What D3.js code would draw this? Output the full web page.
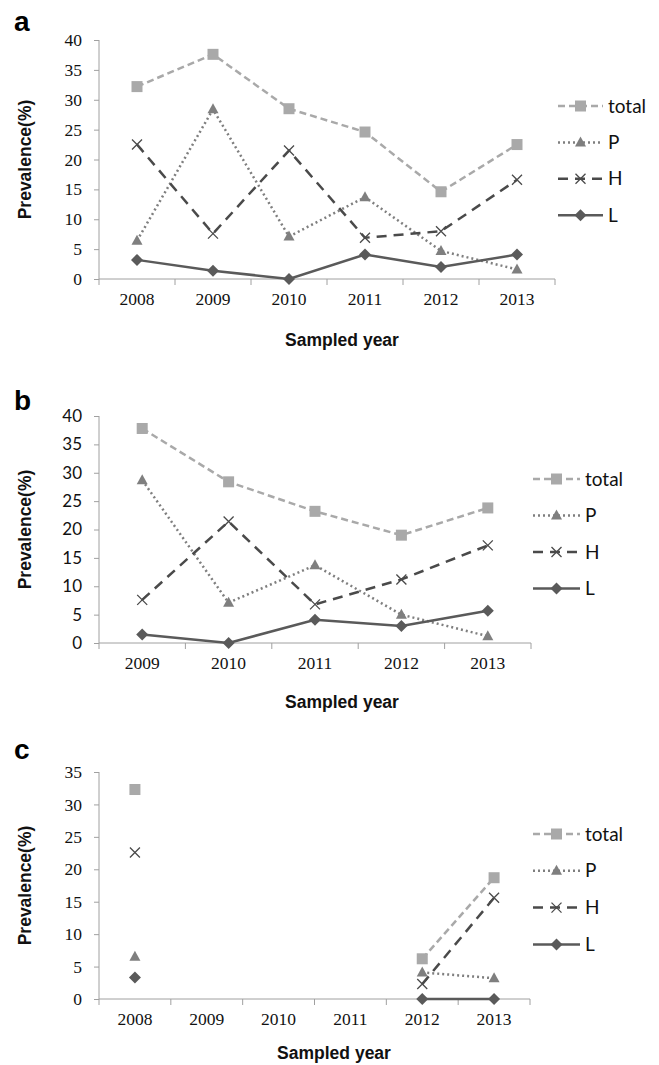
<!DOCTYPE html>
<html>
<head>
<meta charset="utf-8">
<script src="https://cdn.jsdelivr.net/npm/d3@7"></script>
<style>
  body { margin: 0; background: #fff; }
  svg { display: block; }
  .axis path, .axis line { stroke: #a0a0a0; }
</style>
</head>
<body>
<div id="chart"></div>
<script>
// Data
const seriesNames = ['total', 'P', 'H', 'L'];

const yearsA = ['2008', '2009', '2010', '2011', '2012', '2013'];
const totalA = [32.2, 37.6, 28.5, 24.6, 14.6, 22.5];
const pA     = [6.4, 28.4, 7.1, 13.7, 4.7, 1.6];
const hA     = [22.5, 7.6, 21.5, 6.9, 8.0, 16.6];
const lA     = [3.2, 1.4, 0, 4.1, 2.0, 4.1];

const yearsB = ['2009', '2010', '2011', '2012', '2013'];
const totalB = [37.8, 28.4, 23.2, 19.0, 23.8];
const pB     = [28.7, 7.1, 13.7, 5.0, 1.2];
const hB     = [7.6, 21.4, 6.8, 11.2, 17.2];
const lB     = [1.5, 0, 4.1, 3.0, 5.7];

const yearsC = ['2008', '2009', '2010', '2011', '2012', '2013'];
const totalC = [32.3, null, null, null, 6.2, 18.7];
const pC     = [6.5, null, null, null, 4.1, 3.2];
const hC     = [22.6, null, null, null, 2.3, 15.6];
const lC     = [3.3, null, null, null, 0, 0];

const yTicksA = [0, 5, 10, 15, 20, 25, 30, 35, 40];
const yTicksB = [0, 5, 10, 15, 20, 25, 30, 35, 40];
const yTicksC = [0, 5, 10, 15, 20, 25, 30, 35];

const width = 659;
const height = 1065;

const serif = "'Liberation Serif', 'Times New Roman', serif";
const sans = "Lato, 'Open Sans', sans-serif";
const bold = "'Liberation Sans', Arial, sans-serif";

// line / marker styles per series
const styles = {
  total: { stroke: '#a9a9a9', dash: '7,4', marker: 'square', fill: '#a9a9a9' },
  P:     { stroke: '#7f7f7f', dash: '2,3', marker: 'triangle', fill: '#7f7f7f' },
  H:     { stroke: '#4a4a4a', dash: '10,7', marker: 'cross', fill: '#4a4a4a' },
  L:     { stroke: '#5a5a5a', dash: null, marker: 'diamond', fill: '#5a5a5a' }
};

const panels = [
  { letter: 'a', years: yearsA, values: [totalA, pA, hA, lA], ticks: yTicksA, yMax: 40,
    left: 99, right: 555, top: 40, bottom: 279, yFont: serif, yFontSize: 17.5,
    titleY: 340, titleX: 342, letterY: 31,
    legendX: 558, legendLen: 45, legendY: 106, legendStep: 36.4 },
  { letter: 'b', years: yearsB, values: [totalB, pB, hB, lB], ticks: yTicksB, yMax: 40,
    left: 99, right: 531, top: 416, bottom: 643, yFont: sans, yFontSize: 17,
    titleY: 702, titleX: 342, letterY: 410,
    legendX: 533, legendLen: 47, legendY: 479, legendStep: 36.5 },
  { letter: 'c', years: yearsC, values: [totalC, pC, hC, lC], ticks: yTicksC, yMax: 35,
    left: 99, right: 530, top: 772, bottom: 999, yFont: serif, yFontSize: 17.5,
    titleY: 1053, titleX: 334, letterY: 759,
    legendX: 533, legendLen: 47, legendY: 834, legendStep: 36.8 }
];

const svg = d3.select('#chart').append('svg')
    .attr('width', width)
    .attr('height', height)
    .attr('viewBox', [0, 0, width, height]);

function drawMarker(g, type, cx, cy, color) {
  if (type === 'square') {
    g.append('rect')
      .attr('x', cx - 5.5).attr('y', cy - 5.5)
      .attr('width', 11).attr('height', 11)
      .attr('fill', color);
  } else if (type === 'triangle') {
    g.append('path')
      .attr('d', `M${cx},${cy - 6}L${cx + 5.5},${cy + 4}L${cx - 5.5},${cy + 4}Z`)
      .attr('fill', color);
  } else if (type === 'diamond') {
    g.append('path')
      .attr('d', `M${cx},${cy - 6}L${cx + 6},${cy}L${cx},${cy + 6}L${cx - 6},${cy}Z`)
      .attr('fill', color);
  } else if (type === 'cross') {
    g.append('path')
      .attr('d', `M${cx - 5},${cy - 5}L${cx + 5},${cy + 5}M${cx - 5},${cy + 5}L${cx + 5},${cy - 5}`)
      .attr('stroke', color)
      .attr('stroke-width', 1.3)
      .attr('fill', 'none');
  }
}

panels.forEach(p => {
  const g = svg.append('g');

  const x = d3.scaleBand()
      .domain(p.years)
      .range([p.left, p.right])
      .padding(0);

  const y = d3.scaleLinear()
      .domain([0, p.yMax])
      .range([p.bottom, p.top]);

  const cx = d => x(d) + x.bandwidth() / 2;

  // y axis
  const yAxis = d3.axisLeft(y)
      .tickValues(p.ticks)
      .tickSize(5)
      .tickPadding(12)
      .tickFormat(d3.format('d'));

  g.append('g')
      .attr('class', 'axis')
      .attr('transform', `translate(${p.left},0)`)
      .call(yAxis)
      .call(s => s.select('.domain').attr('d', `M0,${p.top}V${p.bottom}`))
      .selectAll('text')
      .style('font-family', p.yFont)
      .style('font-size', p.yFontSize + 'px')
      .attr('fill', '#111');

  // x axis: labels at band centres, ticks at band edges
  const xAxis = d3.axisBottom(x)
      .tickSize(0)
      .tickPadding(14);

  const xg = g.append('g')
      .attr('class', 'axis')
      .attr('transform', `translate(0,${p.bottom})`)
      .call(xAxis);

  xg.select('.domain').attr('d', `M${p.left},0H${p.right}`);
  xg.selectAll('text')
      .style('font-family', serif)
      .style('font-size', '17.5px')
      .attr('fill', '#111');

  const edges = p.years.map(d => x(d)).concat([p.right]);
  xg.selectAll('line.edge')
      .data(edges)
      .enter()
      .append('line')
      .attr('class', 'edge')
      .attr('x1', d => d).attr('x2', d => d)
      .attr('y1', 0).attr('y2', 6)
      .attr('stroke', '#a0a0a0');

  // y title
  g.append('text')
      .attr('transform', `translate(31,${(p.top + p.bottom) / 2}) rotate(-90)`)
      .attr('text-anchor', 'middle')
      .style('font-family', bold)
      .style('font-weight', 'bold')
      .style('font-size', '17.5px')
      .attr('fill', '#111')
      .text('Prevalence(%)');

  // x title
  g.append('text')
      .attr('x', p.titleX)
      .attr('y', p.titleY)
      .attr('dy', '0.35em')
      .attr('text-anchor', 'middle')
      .style('font-family', bold)
      .style('font-weight', 'bold')
      .style('font-size', '17.5px')
      .attr('fill', '#111')
      .text('Sampled year');

  // panel letter
  g.append('text')
      .attr('x', 14)
      .attr('y', p.letterY)
      .style('font-family', bold)
      .style('font-weight', 'bold')
      .style('font-size', '28px')
      .attr('fill', '#000')
      .text(p.letter);

  // series: lines then markers
  seriesNames.forEach((name, i) => {
    const st = styles[name];
    const vals = p.values[i];
    const pts = p.years.map((yr, j) => ({ yr: yr, v: vals[j] }));

    const line = d3.line()
        .defined(d => d.v != null)
        .x(d => cx(d.yr))
        .y(d => y(d.v));

    g.append('path')
        .datum(pts)
        .attr('d', line)
        .attr('fill', 'none')
        .attr('stroke', st.stroke)
        .attr('stroke-width', 2.5)
        .attr('stroke-dasharray', st.dash);
  });

  seriesNames.forEach((name, i) => {
    const st = styles[name];
    const vals = p.values[i];
    p.years.forEach((yr, j) => {
      if (vals[j] != null) drawMarker(g, st.marker, cx(yr), y(vals[j]), st.fill);
    });
  });

  // legend
  seriesNames.forEach((name, i) => {
    const st = styles[name];
    const ly = p.legendY + i * p.legendStep;
    const lg = g.append('g');
    lg.append('line')
        .attr('x1', p.legendX).attr('x2', p.legendX + p.legendLen)
        .attr('y1', ly).attr('y2', ly)
        .attr('stroke', st.stroke)
        .attr('stroke-width', 2.5)
        .attr('stroke-dasharray', st.dash);
    drawMarker(lg, st.marker, p.legendX + p.legendLen / 2, ly, st.fill);
    lg.append('text')
        .attr('x', p.legendX + p.legendLen + 5)
        .attr('y', ly)
        .attr('dy', '0.35em')
        .style('font-family', sans)
        .style('font-size', '19px')
        .attr('fill', '#111')
        .text(name);
  });
});
</script>
</body>
</html>
